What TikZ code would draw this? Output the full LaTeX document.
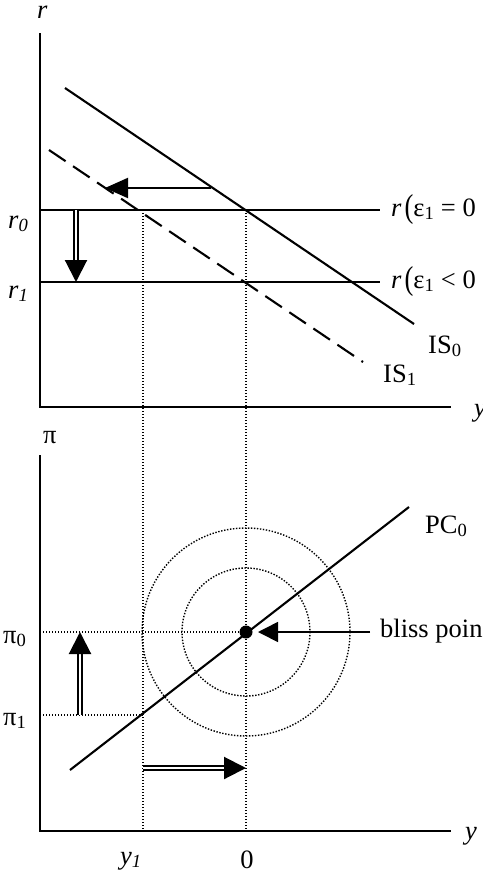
\documentclass[tikz,border=0pt]{standalone}
\usepackage{fontspec}
\setmainfont{Liberation Serif}
\usepackage{graphicx}
\usetikzlibrary{arrows.meta}

\begin{document}
\begin{tikzpicture}[x=1pt, y=-1pt, font=\fontsize{26.5}{31}\selectfont,
  axis/.style={line width=2.3pt},
  curve/.style={line width=2.1pt},
  guide/.style={line width=1.4pt, dash pattern=on 1.4pt off 1.6pt},
  shiftarrow/.style={line width=2pt, -{Triangle[length=23pt,width=20pt]}},
  dbl/.style={line width=2.1pt, double, double distance=1.6pt, -{Triangle[length=22pt,width=22pt]}},
  lbl/.style={inner sep=0pt, anchor=base west}]
\useasboundingbox (0,0) rectangle (482,878);
\clip (0,0) rectangle (482,878);

% top panel: IS curves
\coordinate (rtop) at (40,33);
\coordinate (O1) at (40,407);
\coordinate (yend1) at (451,407);
\coordinate (is0a) at (65,88);
\coordinate (is0b) at (414,324);
\coordinate (is1a) at (49,150);
\coordinate (is1b) at (363,362);
\coordinate (r0a) at (40,210);
\coordinate (r0b) at (380,210);
\coordinate (r1a) at (40,282);
\coordinate (r1b) at (380,282);
\coordinate (sh0) at (211,188);
\coordinate (sh1) at (105,188);
\coordinate (dn0) at (76,210);
\coordinate (dn1) at (76,282);
\coordinate (A) at (143,210);
\coordinate (B) at (246,210);

% bottom panel: Phillips curve
\coordinate (pitop) at (40,455);
\coordinate (O2) at (40,831);
\coordinate (yend2) at (451,831);
\coordinate (pc0a) at (70,770);
\coordinate (pc0b) at (409,507);
\coordinate (bliss) at (246,632);
\coordinate (pi0a) at (40,632);
\coordinate (pi1a) at (40,715);
\coordinate (pi1b) at (143,715);
\coordinate (A2) at (143,831);
\coordinate (B2) at (246,831);
\coordinate (up0) at (80,715);
\coordinate (up1) at (80,632);
\coordinate (rt0) at (143,768);
\coordinate (rt1) at (246,768);
\coordinate (bl0) at (370,632);
\coordinate (bl1) at (258,632);

\draw[axis] (rtop) -- (O1) -- (yend1);
\draw[curve] (is0a) -- (is0b);
\draw[curve, dash pattern=on 20pt off 9pt] (is1a) -- (is1b);
\draw[curve] (r0a) -- (r0b);
\draw[curve] (r1a) -- (r1b);
\draw[shiftarrow] (sh0) -- (sh1);
\draw[dbl] (dn0) -- (dn1);
\draw[guide] (A) -- (A2);
\draw[guide] (B) -- (B2);

\draw[axis] (pitop) -- (O2) -- (yend2);
\draw[guide] (bliss) circle[radius=64];
\draw[guide] (bliss) circle[radius=104];
\draw[guide] (pi0a) -- (bliss);
\draw[guide] (pi1a) -- (pi1b);
\draw[curve] (pc0a) -- (pc0b);
\fill (bliss) circle[radius=6.5];
\draw[dbl] (up0) -- (up1);
\draw[dbl] (rt0) -- (rt1);
\draw[line width=1.6pt, -{Triangle[length=20pt,width=20pt]}] (bl0) -- (bl1);

\node[lbl] (rlab) at (37,19) {\textit{r}};
\node[lbl] (r0lab) at (8,228) {\textit{r\textsubscript{0}}};
\node[lbl] (r1lab) at (8,298) {\textit{r\textsubscript{1}}};
\node[lbl] (e0lab) at (391,216) {\textit{r}\kern3pt\raisebox{-1.5pt}{\scalebox{1}[1.25]{(}}ε\textsubscript{1} = 0};
\node[lbl] (e1lab) at (391,288) {\textit{r}\kern3pt\raisebox{-1.5pt}{\scalebox{1}[1.25]{(}}ε\textsubscript{1} < 0};
\node[lbl] (is0lab) at (428,353) {IS\textsubscript{0}};
\node[lbl] (is1lab) at (383,382) {IS\textsubscript{1}};
\node[lbl] (ylab1) at (474,416) {\textit{y}};
\node[lbl] (pilab) at (43,443) {π};
\node[lbl] (pi0lab) at (3,643) {π\textsubscript{0}};
\node[lbl] (pi1lab) at (3,725) {π\textsubscript{1}};
\node[lbl] (pc0lab) at (425,533) {PC\textsubscript{0}};
\node[lbl] (blisslab) at (380,637) {bliss poin};
\node[lbl] (ylab2) at (465,839) {\textit{y}};
\node[lbl] (y1lab) at (120,864) {\textit{y\textsubscript{1}}};
\node[inner sep=0pt, anchor=base] (zerolab) at (247,868) {0};
\end{tikzpicture}
\end{document}
